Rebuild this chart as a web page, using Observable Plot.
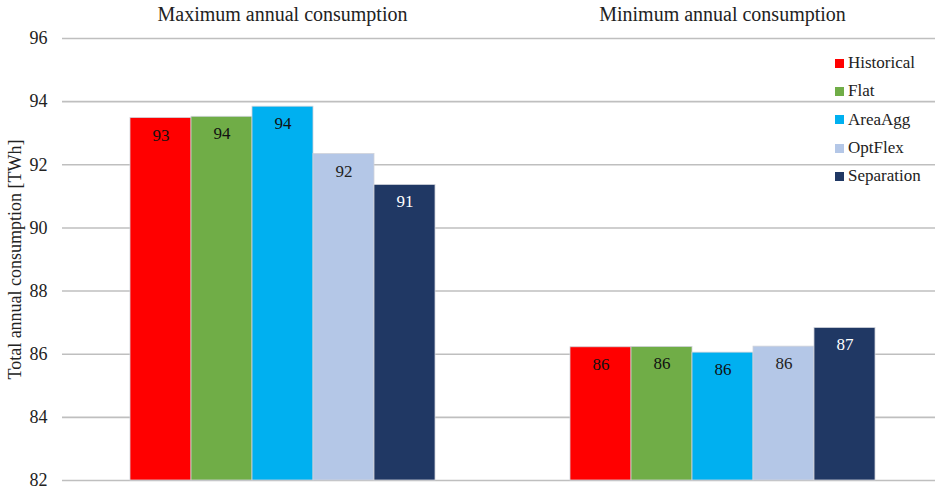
<!DOCTYPE html>
<html>
<head>
<meta charset="utf-8">
<script src="https://cdn.jsdelivr.net/npm/d3@7"></script>
<script src="https://cdn.jsdelivr.net/npm/@observablehq/plot@0.6"></script>
<style>
  body { margin: 0; background: #fff; font-family: "Liberation Serif", "Times New Roman", serif; }
  #chart { position: relative; width: 935px; height: 488px; overflow: hidden; }
  #chart svg { max-width: none !important; font-family: "Liberation Serif", "Times New Roman", serif !important; }
  .legend { position: absolute; left: 835px; top: 49px; font-size: 17px; color: #222; font-family: "Liberation Serif", "Times New Roman", serif; }
  .legend .row { height: 28.3px; display: flex; align-items: center; }
  .legend .sw { width: 9px; height: 9px; margin-right: 4px; display: inline-block; }
</style>
</head>
<body>
<div id="chart"></div>
<script>
// Annual consumption per scenario, in TWh
const groups = ["Maximum annual consumption", "Minimum annual consumption"];
const series = ["Historical", "Flat", "AreaAgg", "OptFlex", "Separation"];
const colors = ["#FF0000", "#70AD47", "#00B0F0", "#B4C7E7", "#203864"];
const labelColors = ["#111", "#111", "#111", "#222", "#fff"];
const maxValues = [93.48, 93.52, 93.84, 92.34, 91.36];
const minValues = [86.22, 86.23, 86.05, 86.24, 86.83];
const yTicks = [82, 84, 86, 88, 90, 92, 94, 96];

const rows = [];
[maxValues, minValues].forEach((vals, gi) => {
  vals.forEach((v, si) => rows.push({group: groups[gi], series: series[si], value: v}));
});

const plot = Plot.plot({
  width: 960,
  height: 488,
  marginLeft: 61,
  marginRight: 18,
  marginTop: 38,
  marginBottom: 8,
  style: {fontFamily: "'Liberation Serif', 'Times New Roman', serif", fontSize: "17px", color: "#222", background: "#fff", overflow: "visible", maxWidth: "none"},
  fx: {domain: groups, paddingInner: 0, paddingOuter: 0},
  x: {domain: series, paddingInner: 0, paddingOuter: 1.1},
  y: {domain: [82, 96]},
  color: {domain: series, range: colors},
  marks: [
    Plot.gridY(yTicks, {stroke: "#bfbfbf", strokeOpacity: 1, strokeWidth: 1.6}),
    Plot.axisFx({anchor: "top", tickSize: 0, tickPadding: 18, label: null, fontSize: 20}),
    Plot.axisX({ticks: [], label: null, tickSize: 0}),
    Plot.axisY(yTicks, {
      tickSize: 0, tickPadding: 15, fontSize: 18,
      label: "Total annual consumption [TWh]", labelAnchor: "center", labelArrow: "none", labelOffset: 54
    }),
    Plot.barY(rows, {fx: "group", x: "series", y1: 82, y2: "value", fill: "series", stroke: "#cfd3da", strokeWidth: 0.8}),
    Plot.text(rows, {
      fx: "group", x: "series", y: "value", dy: 17, lineAnchor: "middle",
      text: d => d3.format(".0f")(d.value), fontSize: 17,
      fill: d => labelColors[series.indexOf(d.series)]
    })
  ]
});

const chart = document.getElementById("chart");
chart.appendChild(plot);

// Legend stacked at the upper right
const legend = document.createElement("div");
legend.className = "legend";
series.forEach((s, i) => {
  const row = document.createElement("div");
  row.className = "row";
  const sw = document.createElement("span");
  sw.className = "sw";
  sw.style.background = colors[i];
  row.appendChild(sw);
  row.appendChild(document.createTextNode(s));
  legend.appendChild(row);
});
chart.appendChild(legend);
</script>
</body>
</html>
